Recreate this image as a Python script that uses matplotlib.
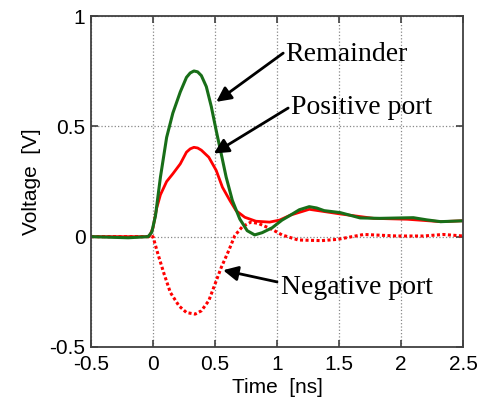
import numpy as np
import matplotlib.pyplot as plt

# time axis [ns] and voltages [V]
t_rem = [-0.5, -0.2, -0.04, -0.01, 0.02, 0.06, 0.11, 0.16, 0.22, 0.27, 0.30, 0.33, 0.36,
         0.39, 0.43, 0.47, 0.51, 0.55, 0.59, 0.64, 0.70, 0.76, 0.82, 0.88, 0.96, 1.04,
         1.11, 1.18, 1.26, 1.32, 1.38, 1.51, 1.67, 1.83, 2.1, 2.21, 2.32, 2.5]
v_rem = [0.0, -0.005, 0.0, 0.02, 0.095, 0.27, 0.45, 0.56, 0.656, 0.722, 0.742, 0.751, 0.747,
         0.73, 0.68, 0.59, 0.48, 0.376, 0.27, 0.164, 0.08, 0.027, 0.008, 0.018, 0.04, 0.075,
         0.098, 0.122, 0.136, 0.13, 0.118, 0.109, 0.085, 0.083, 0.086, 0.076, 0.068, 0.072]

t_pos = [-0.5, -0.2, -0.03, 0.0, 0.03, 0.06, 0.11, 0.16, 0.22, 0.27, 0.30, 0.33, 0.36,
         0.39, 0.45, 0.51, 0.56, 0.62, 0.67, 0.74, 0.83, 0.94, 1.02, 1.11, 1.26, 1.51,
         1.78, 2.05, 2.32, 2.5]
v_pos = [0.0, 0.0, 0.0, 0.04, 0.13, 0.19, 0.25, 0.285, 0.33, 0.383, 0.398, 0.405, 0.402,
         0.392, 0.36, 0.30, 0.224, 0.164, 0.118, 0.088, 0.07, 0.066, 0.075, 0.098, 0.124, 0.103,
         0.083, 0.079, 0.068, 0.072]

t_neg = [-0.5, -0.2, 0.0, 0.04, 0.09, 0.14, 0.21, 0.27, 0.34, 0.39, 0.45, 0.50,
         0.55, 0.61, 0.66, 0.72, 0.79, 0.85, 0.96, 1.04, 1.17, 1.36, 1.49, 1.70,
         1.97, 2.18, 2.34, 2.5]
v_neg = [0.0, 0.0, 0.0, -0.079, -0.17, -0.253, -0.314, -0.344, -0.351, -0.336, -0.29, -0.215,
         -0.14, -0.064, 0.005, 0.045, 0.066, 0.06, 0.033, 0.008, -0.015, -0.018, -0.012, 0.01,
         0.003, 0.003, 0.01, 0.003]

green = '#186e18'
red = '#ff0000'

plt.rcParams['font.family'] = ['Liberation Sans', 'DejaVu Sans']

fig = plt.figure(figsize=(4.83, 4.01), dpi=100)
ax = fig.add_axes([0.1884, 0.1347, 0.7702, 0.8253])

ax.plot(t_neg, v_neg, color=red, lw=2.2, linestyle=(0, (1, 0.8)))
ax.plot(t_pos, v_pos, '-', color=red, lw=2.0)
ax.plot(t_rem, v_rem, '-', color=green, lw=2.2)

ax.set_xlim(-0.5, 2.5)
ax.set_ylim(-0.5, 1)
ax.set_xticks([-0.5, 0, 0.5, 1, 1.5, 2, 2.5])
ax.set_xticklabels(['-0.5', '0', '0.5', '1', '1.5', '2', '2.5'])
ax.set_yticks([-0.5, 0, 0.5, 1])
ax.set_yticklabels(['-0.5', '0', '0.5', '1'])
ax.tick_params(direction='in', length=5, width=1.2, top=True, right=True,
               labelsize=15, colors='#404040', labelcolor='black', pad=4)
ax.tick_params(axis='x', pad=6)
ax.grid(True, linestyle=':', color='#888888', lw=0.9)
for s in ax.spines.values():
    s.set_color('#404040')
    s.set_linewidth(1.3)

ax.set_xlabel('Time  [ns]', fontsize=15, labelpad=3)
ax.set_ylabel('Voltage  [V]', fontsize=15, labelpad=6)

arrow = dict(arrowstyle='-|>', color='black', lw=2, mutation_scale=22,
             shrinkA=0, shrinkB=0)
serif = ['Liberation Serif', 'DejaVu Serif']
notes = [('Remainder', (0.51, 0.611), (1.05, 0.832), (1.07, 0.825)),
         ('Positive port', (0.49, 0.377), (1.09, 0.583), (1.11, 0.587)),
         ('Negative port', (0.565, -0.152), (1.0, -0.205), (1.03, -0.229))]
for label, tip, tail, pos in notes:
    ax.annotate('', xy=tip, xytext=tail, arrowprops=arrow)
    ax.text(pos[0], pos[1], label, family=serif, fontsize=20,
            ha='left', va='center')

fig.savefig('out.png', dpi=100)
